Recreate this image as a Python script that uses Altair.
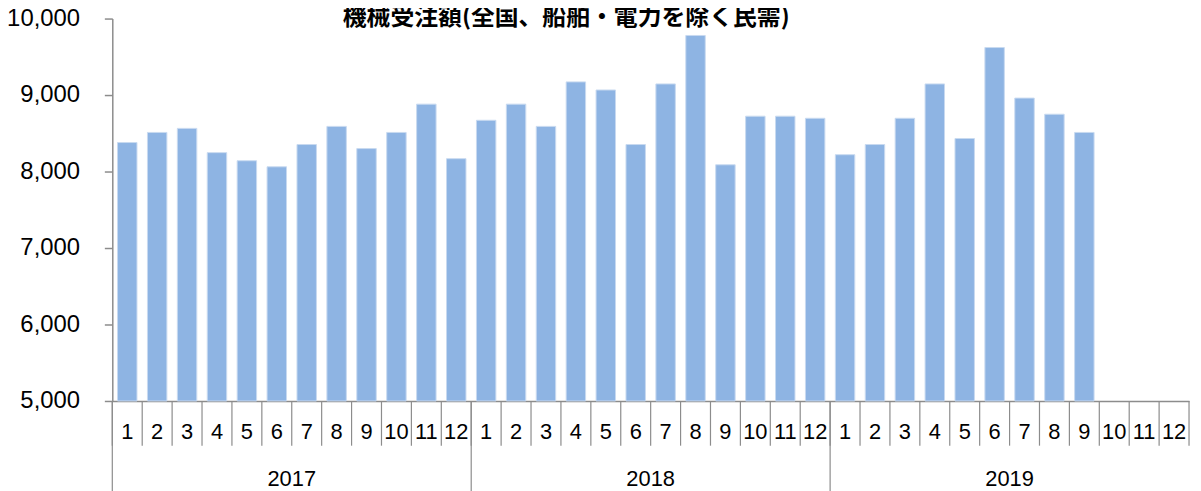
import altair as alt
import pandas as pd

years = ["2017", "2018", "2019"]
months = [str(m) for m in range(1, 13)]
values_2017 = [8379, 8511, 8564, 8247, 8141, 8062, 8353, 8590, 8300, 8511, 8881, 8168]
values_2018 = [8670, 8881, 8590, 9172, 9066, 8353, 9145, 9779, 8088, 8723, 8723, 8696]
values_2019 = [8220, 8353, 8696, 9145, 8432, 9621, 8960, 8749, 8511, None, None, None]
title_text = "機械受注額(全国、船舶・電力を除く民需)"

rows = []
for y, vals in zip(years, [values_2017, values_2018, values_2019]):
    for m, v in zip(months, vals):
        rows.append({"key": f"{y}-{m}", "year": y, "month": m, "value": v})
df = pd.DataFrame(rows)
keys = list(df["key"])

year_df = pd.DataFrame({
    "year": years,
    "first": [f"{y}-1" for y in years],
    "mid": [f"{y}-7" for y in years],
})
end_df = df.tail(1)

W, H = 1084, 385
GREY = "#8C8C8C"
NARROW = "Liberation Sans Narrow, Liberation Sans, sans-serif"

xscale = alt.Scale(domain=keys, paddingInner=0, paddingOuter=0)

bars = alt.Chart(df).mark_bar(
    color="#8EB4E3", stroke="#C9DAF0", strokeWidth=1,
    width=alt.RelativeBandSize(0.65)
).encode(
    x=alt.X("key:N", scale=xscale, sort=keys, axis=alt.Axis(
        title=None, ticks=False, labelAngle=0,
        labelExpr="split(datum.label, '-')[1]",
        labelFont=NARROW, labelFontSize=22, labelColor="#000000",
        labelPadding=21, domainColor=GREY, domainWidth=1.5,
        labelOverlap=False)),
    y=alt.Y("value:Q", scale=alt.Scale(domain=[5000, 10000], zero=False, nice=False, clamp=True),
            axis=alt.Axis(title=None, values=[5000, 6000, 7000, 8000, 9000, 10000],
                          format=",d", grid=False, tickSize=8, tickColor=GREY,
                          tickWidth=1.5, domainColor=GREY, domainWidth=1.5,
                          labelFont="Liberation Sans, Arial, sans-serif",
                          labelFontSize=24, labelColor="#000000", labelPadding=25)),
)

month_rules = alt.Chart(df).mark_rule(color=GREY, strokeWidth=1.2).encode(
    x=alt.X("key:N", bandPosition=0),
    y=alt.value(H), y2=alt.value(H + 45),
)
end_rule = alt.Chart(end_df).mark_rule(color=GREY, strokeWidth=1.2).encode(
    x=alt.X("key:N", bandPosition=1),
    y=alt.value(H), y2=alt.value(H + 45),
)
year_rules = alt.Chart(year_df).mark_rule(color=GREY, strokeWidth=1.2).encode(
    x=alt.X("first:N", bandPosition=0),
    y=alt.value(H), y2=alt.value(H + 110),
)
year_text = alt.Chart(year_df).mark_text(
    font=NARROW, fontSize=22, baseline="middle", align="center", color="#000000"
).encode(
    x=alt.X("mid:N", bandPosition=0),
    y=alt.value(H + 79),
    text="year:N",
)

chart = alt.layer(bars, month_rules, end_rule, year_rules, year_text).properties(
    width=W, height=H,
    autosize=alt.AutoSizeParams(type="none"),
    padding={"left": 105, "top": 9, "right": 4, "bottom": 89},
    title=alt.TitleParams(
        title_text, font="Noto Sans CJK JP", fontSize=24, fontWeight="bold",
        color="#000000", anchor="start", frame="group", baseline="alphabetic",
        dx=232, dy=42, offset=0),
).configure_view(stroke=None)

chart.save("out.html", embed_options={"renderer": "svg", "actions": False})
